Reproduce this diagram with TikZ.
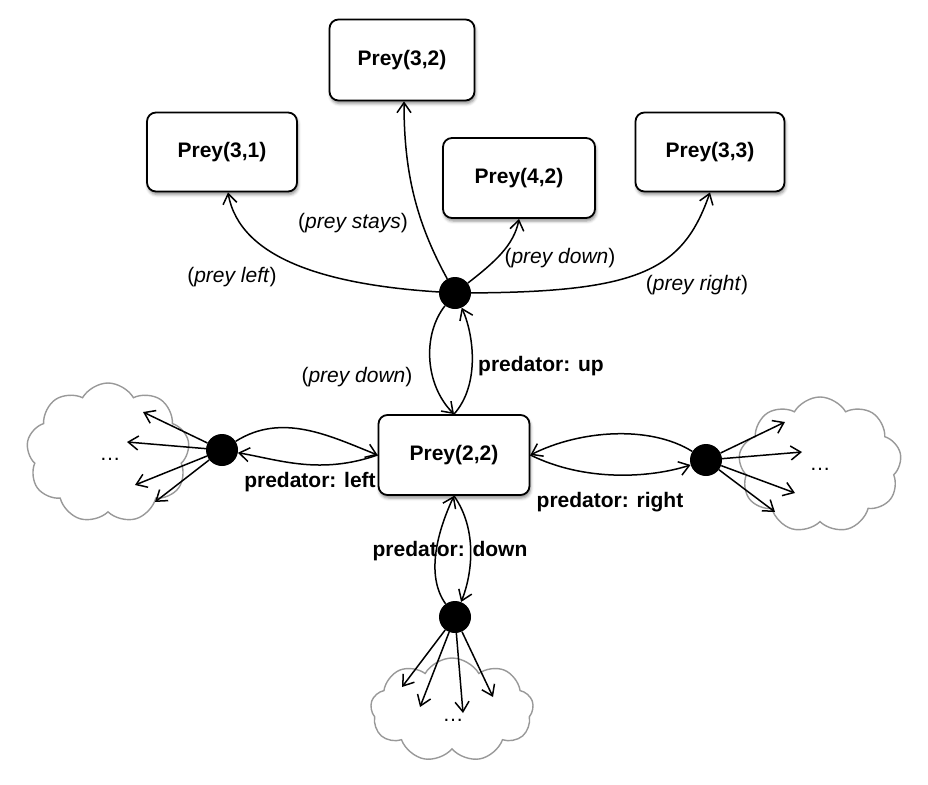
\documentclass[tikz,border=0pt]{standalone}
\usepackage{fontspec}
\setmainfont{Liberation Sans}
\usetikzlibrary{arrows.meta,shapes.symbols,shadows.blur}

\begin{document}
\begin{tikzpicture}[x=1pt,y=-1pt,
  every node/.style={font=\fontsize{21}{25}\selectfont},
  statebox/.style={draw, line width=1.8pt, rounded corners=9pt, fill=white,
    font=\fontsize{21}{25}\selectfont\bfseries,
    blur shadow={shadow xshift=1pt, shadow yshift=-3pt, shadow blur radius=3pt, shadow opacity=45}},
  chance/.style={circle, fill=black, minimum size=32pt, inner sep=0pt},
  puff/.style={cloud, cloud puffs=9, cloud puff arc=120, cloud ignores aspect,
    draw=black!40, line width=1.4pt, inner sep=0pt, fill=white},
  link/.style={line width=1.5pt, -{Straight Barb[length=10pt,width=14pt,line width=1.5pt]}},
  act/.style={font=\fontsize{21}{25}\selectfont\bfseries, inner sep=1pt},
  preylab/.style={inner sep=1pt},
  dotslab/.style={inner sep=0pt},
]
\useasboundingbox (0,0) rectangle (928,784);

% clouds
\node[puff, minimum width=163pt, minimum height=140pt] (cl) at (108,453) {};
\node[puff, minimum width=163pt, minimum height=136pt] (cr) at (820,465) {};
\node[puff, minimum width=163pt, minimum height=104pt] (cb) at (452,710) {};
\node[dotslab] (dl) at (110,459) {…};
\node[dotslab] (dr) at (820,469) {…};
\node[dotslab] (db) at (453,720) {…};

% state boxes
\node[statebox, minimum width=145pt, minimum height=81pt] (p32) at (402,60) {Prey(3,2)};
\node[statebox, minimum width=150pt, minimum height=79pt] (p31) at (222,152) {Prey(3,1)};
\node[statebox, minimum width=152pt, minimum height=80pt] (p42) at (519,178) {Prey(4,2)};
\node[statebox, minimum width=149pt, minimum height=79pt] (p33) at (710,152) {Prey(3,3)};
\node[statebox, minimum width=151pt, minimum height=80pt] (p22) at (454,455) {Prey(2,2)};

% chance nodes
\node[chance] (T) at (455,293) {};
\node[chance] (L) at (222,450) {};
\node[chance] (R) at (706,460) {};
\node[chance] (B) at (455,617) {};

% labels
\node[preylab] (lpl) at (232,277) {(\textit{prey left})};
\node[preylab] (lps) at (353,223) {(\textit{prey stays})};
\node[preylab] (lpd) at (560,258) {(\textit{prey down})};
\node[preylab] (lpr) at (697,285) {(\textit{prey right})};
\node[preylab] (lpd2) at (357,377) {(\textit{prey down})};
\node[act] (lup) at (541,366) {predator: up};
\node[act] (lleft) at (310,482) {predator: left};
\node[act] (lright) at (610,502) {predator: right};
\node[act] (ldown) at (450,551) {predator: down};

% prey moves from top chance node
\draw[link] (T) .. controls (330,285) and (240,260) .. ([xshift=6pt]p31.south);
\draw[link] (T) .. controls (415,220) and (404,170) .. ([xshift=2pt]p32.south);
\draw[link] (T) .. controls (495,262) and (514,245) .. (p42.south);
\draw[link] (T) .. controls (640,292) and (683,270) .. (p33.south);

% predator up
\draw[link] (T) .. controls (422,335) and (425,385) .. (p22.north);
\draw[link] (p22.north) .. controls (480,385) and (474,335) .. (T);

% predator left
\draw[link] (L) .. controls (282,412) and (330,436) .. (p22.west);
\draw[link] (p22.west) .. controls (320,475) and (280,460) .. (L);

% predator right
\draw[link] (R) .. controls (650,425) and (580,430) .. (p22.east);
\draw[link] (p22.east) .. controls (585,482) and (650,478) .. (R);

% predator down
\draw[link] (B) .. controls (425,575) and (438,530) .. (p22.south);
\draw[link] (p22.south) .. controls (478,530) and (472,575) .. (B);

% fan-outs into clouds
\coordinate (l1) at (143,412);
\coordinate (l2) at (127,442);
\coordinate (l3) at (135,485);
\coordinate (l4) at (155,502);
\coordinate (r1) at (785,422);
\coordinate (r2) at (802,452);
\coordinate (r3) at (795,493);
\coordinate (r4) at (775,512);
\coordinate (b1) at (402,687);
\coordinate (b2) at (420,707);
\coordinate (b3) at (463,713);
\coordinate (b4) at (493,697);
\foreach \c in {l1,l2,l3,l4} \draw[link] (L) -- (\c);
\foreach \c in {r1,r2,r3,r4} \draw[link] (R) -- (\c);
\foreach \c in {b1,b2,b3,b4} \draw[link] (B) -- (\c);
\end{tikzpicture}
\end{document}
